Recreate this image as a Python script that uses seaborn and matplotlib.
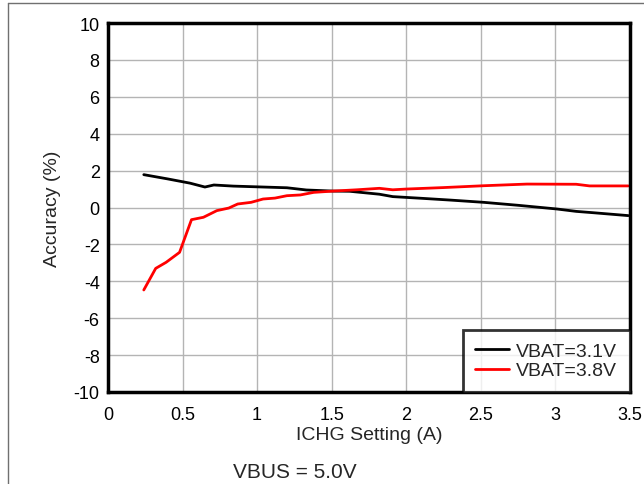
import numpy as np
import pandas as pd
import matplotlib
matplotlib.use('Agg')
import matplotlib.pyplot as plt
import seaborn as sns
from matplotlib.lines import Line2D

# data
ichg_31 = [0.24, 0.40, 0.55, 0.65, 0.71, 0.84, 1.00, 1.20, 1.33, 1.51, 1.62, 1.82, 1.91,
           2.10, 2.30, 2.52, 2.75, 3.01, 3.14, 3.25, 3.49]
acc_31 = [1.78, 1.55, 1.32, 1.11, 1.22, 1.16, 1.12, 1.07, 0.95, 0.89, 0.88, 0.72, 0.59,
          0.50, 0.40, 0.28, 0.12, -0.08, -0.21, -0.28, -0.44]

ichg_38 = [0.24, 0.32, 0.39, 0.48, 0.56, 0.64, 0.73, 0.81, 0.87, 0.96, 1.04, 1.12, 1.20,
           1.29, 1.38, 1.51, 1.67, 1.82, 1.91, 2.00, 2.25, 2.52, 2.81, 3.14, 3.23, 3.49]
acc_38 = [-4.47, -3.30, -2.97, -2.43, -0.66, -0.53, -0.17, -0.03, 0.19, 0.28, 0.46, 0.51, 0.64,
          0.68, 0.82, 0.89, 0.96, 1.04, 0.96, 1.00, 1.08, 1.18, 1.27, 1.26, 1.17, 1.17]

df = pd.concat([
    pd.DataFrame({'ichg': ichg_31, 'acc': acc_31, 'cond': 'VBAT=3.1V'}),
    pd.DataFrame({'ichg': ichg_38, 'acc': acc_38, 'cond': 'VBAT=3.8V'}),
])

sns.set_style('white')
plt.rcParams['font.family'] = ['Liberation Sans', 'DejaVu Sans']
plt.rcParams['axes.unicode_minus'] = False

fig = plt.figure(figsize=(6.44, 4.85), dpi=100)
ax = fig.add_axes([0.1677, 0.1897, 0.8103, 0.7608])

sns.lineplot(data=df, x='ichg', y='acc', hue='cond', palette=['black', 'red'],
             linewidth=2, sort=False, estimator=None, ax=ax)

ax.set_xlim(0, 3.5)
ax.set_ylim(-10, 10)
ax.set_xticks(np.arange(0, 3.51, 0.5))
ax.set_xticklabels(['0', '0.5', '1', '1.5', '2', '2.5', '3', '3.5'])
ax.set_yticks(np.arange(-10, 11, 2))
ax.grid(True, color='#b4b4b4', linewidth=1)
ax.tick_params(labelsize=13, length=0, colors='black')
ax.tick_params(axis='x', pad=10)
ax.tick_params(axis='y', pad=6)
for s in ax.spines.values():
    s.set_linewidth(2.5)
    s.set_color('black')
ax.set_xlabel('ICHG Setting (A)', fontsize=14, labelpad=2)
ax.set_ylabel('Accuracy (%)', fontsize=14, labelpad=9)

leg = ax.legend(loc='lower right', fontsize=14, frameon=True, fancybox=False,
                borderaxespad=0, handlelength=1.75, handletextpad=0.35,
                labelspacing=0.1, borderpad=0.65)
leg.get_frame().set_edgecolor('black')
leg.get_frame().set_linewidth(2)
for h in leg.get_lines():
    h.set_linewidth(2)

fig.text(233 / 644, 1 - 478 / 485, 'VBUS = 5.0V', fontsize=15, ha='left', va='baseline')

# outer frame lines
fig.add_artist(Line2D([8 / 644, 8 / 644], [0, 1 - 4 / 485], color='#707070', linewidth=1))
fig.add_artist(Line2D([8 / 644, 1], [1 - 4 / 485, 1 - 4 / 485], color='#707070', linewidth=1))

fig.savefig('out.png', dpi=100)
